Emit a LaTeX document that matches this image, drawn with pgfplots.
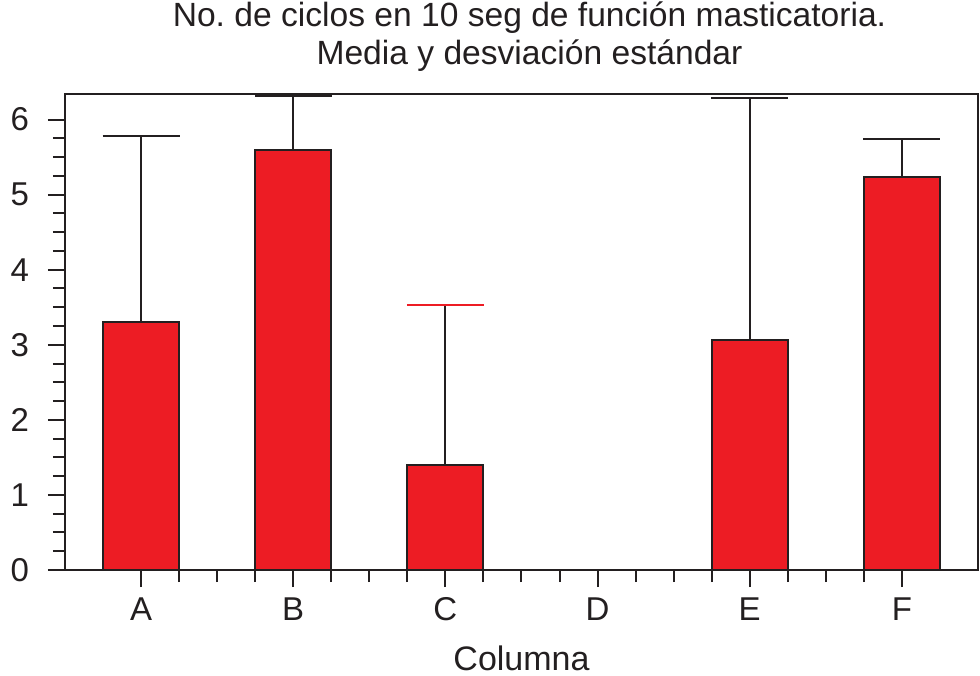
\documentclass[border=0pt]{standalone}
\usepackage{fontspec}
\setmainfont{Liberation Sans}
\usepackage{pgfplots}
\pgfplotsset{compat=1.18}
\definecolor{barred}{HTML}{ED1C24}
\definecolor{ink}{HTML}{231F20}
\begin{document}
\begin{tikzpicture}
\path[use as bounding box] (-32.5pt,-52.5pt) rectangle (457.5pt,285pt);
\begin{axis}[
    at={(0,0)}, anchor=south west, clip=false,
    scale only axis, width=456.5pt, height=238pt,
    xmin=0.5, xmax=6.5, ymin=0, ymax=6.34,
    axis line style={ink, line width=1pt},
    xtick={1,...,6}, xticklabels={A,B,C,D,E,F},
    minor x tick num=3,
    ytick={0,...,6}, minor y tick num=3,
    tick align=outside, tick pos=left,
    major tick length=8.5pt, minor tick length=6pt,
    every tick/.style={ink, line width=1pt},
    tick label style={font=\fontsize{16.5}{20}\selectfont, text=ink},
    yticklabel style={xshift=-6pt},
    xticklabel style={yshift=-1pt, text height=12pt, text depth=0pt},
    /pgf/number format/assume math mode=true,
    xlabel={Columna},
    xlabel style={font=\fontsize{17}{20}\selectfont, text=ink, yshift=-6pt},
    every axis plot/.append style={ybar, bar width=0.5, bar shift=0pt,
        fill=barred, draw=ink, line width=1pt},
]
% mean and standard deviation (upper side only)
\addplot[error bars/.cd, y dir=plus, y explicit,
    error bar style={ink, line width=1pt},
    error mark=|, error mark options={ink, line width=1.2pt, mark size=19.25pt}]
    coordinates {(1,3.30) +- (0,2.48) (2,5.59) +- (0,0.73) (4,0) (5,3.07) +- (0,3.22) (6,5.24) +- (0,0.50)};
\addplot[error bars/.cd, y dir=plus, y explicit,
    error bar style={ink, line width=1pt},
    error mark=|, error mark options={barred, line width=1.2pt, mark size=19.25pt}]
    coordinates {(3,1.40) +- (0,2.13)};
\node[anchor=base, font=\fontsize{16.8}{20}\selectfont, text=ink, xshift=4pt, yshift=33.5pt]
    at (rel axis cs:0.5,1) {No.\ de ciclos en 10 seg de función masticatoria.};
\node[anchor=base, font=\fontsize{16.8}{20}\selectfont, text=ink, xshift=4pt, yshift=14.5pt]
    at (rel axis cs:0.5,1) {Media y desviación estándar};
\end{axis}
\end{tikzpicture}
\end{document}
